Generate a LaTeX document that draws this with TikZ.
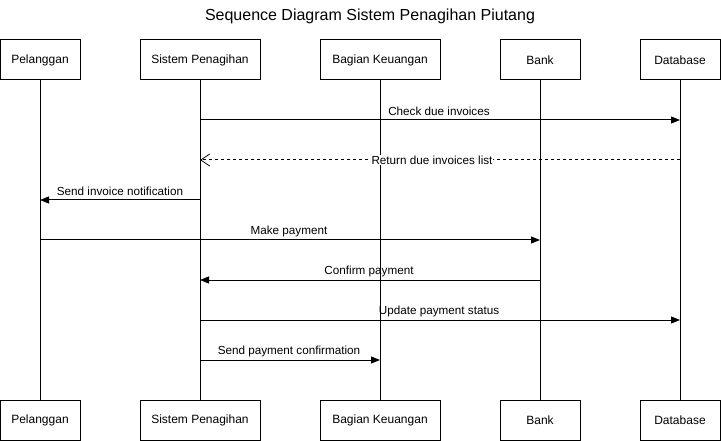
\documentclass[tikz,border=0pt]{standalone}
\usepackage{fontspec}
\setmainfont{Liberation Sans}
\usetikzlibrary{arrows.meta}
\begin{document}
\begin{tikzpicture}[x=1pt,y=-1pt,line width=1pt,
  actor/.style={draw,fill=white,minimum height=40pt,inner sep=0pt,font=\fontsize{12}{14}\selectfont},
  life/.style={draw},
  msg/.style={draw,-{Triangle[length=9pt,width=7pt]}},
  ret/.style={draw,dashed,dash pattern=on 3pt off 3pt,-{Straight Barb[length=9pt,width=12pt,line width=0.8pt]}},
  lbl/.style={font=\fontsize{11.7}{14}\selectfont,inner sep=1pt}]
\useasboundingbox (0,0) rectangle (721,441);
\node[font=\fontsize{16}{19}\selectfont] (title) at (370,16) {Sequence Diagram Sistem Penagihan Piutang};
% top actors
\node[actor,minimum width=80pt] (p1) at (40,60) {Pelanggan};
\node[actor,minimum width=120pt] (s1) at (200,60) {Sistem Penagihan};
\node[actor,minimum width=120pt] (k1) at (380,60) {Bagian Keuangan};
\node[actor,minimum width=80pt] (b1) at (540,60) {Bank};
\node[actor,minimum width=80pt] (d1) at (680,60) {Database};
% bottom actors
\node[actor,minimum width=80pt] (p2) at (40,420) {Pelanggan};
\node[actor,minimum width=120pt] (s2) at (200,420) {Sistem Penagihan};
\node[actor,minimum width=120pt] (k2) at (380,420) {Bagian Keuangan};
\node[actor,minimum width=80pt] (b2) at (540,420) {Bank};
\node[actor,minimum width=80pt] (d2) at (680,420) {Database};
% lifelines
\draw[life] (p1) -- (p2);
\draw[life] (s1) -- (s2);
\draw[life] (k1) -- (k2);
\draw[life] (b1) -- (b2);
\draw[life] (d1) -- (d2);
% message endpoints
\coordinate (m1a) at (200,120); \coordinate (m1b) at (680,120);
\coordinate (m2a) at (680,160); \coordinate (m2b) at (200,160);
\coordinate (m3a) at (200,200); \coordinate (m3b) at (40,200);
\coordinate (m4a) at (40,240); \coordinate (m4b) at (540,240);
\coordinate (m5a) at (540,280); \coordinate (m5b) at (200,280);
\coordinate (m6a) at (200,320); \coordinate (m6b) at (680,320);
\coordinate (m7a) at (200,360); \coordinate (m7b) at (380,360);
\draw[msg] (m1a) -- (m1b);
\node[lbl] (l1) at (439,111) {Check due invoices};
\draw[ret] (m2a) -- (m2b);
\node[lbl,fill=white] (l2) at (432,160) {Return due invoices list};
\draw[msg] (m3a) -- (m3b);
\node[lbl] (l3) at (120,191) {Send invoice notification};
\draw[msg] (m4a) -- (m4b);
\node[lbl] (l4) at (289,231) {Make payment};
\draw[msg] (m5a) -- (m5b);
\node[lbl] (l5) at (369,271) {Confirm payment};
\draw[msg] (m6a) -- (m6b);
\node[lbl] (l6) at (439,311) {Update payment status};
\draw[msg] (m7a) -- (m7b);
\node[lbl] (l7) at (289,351) {Send payment confirmation};
\end{tikzpicture}
\end{document}
